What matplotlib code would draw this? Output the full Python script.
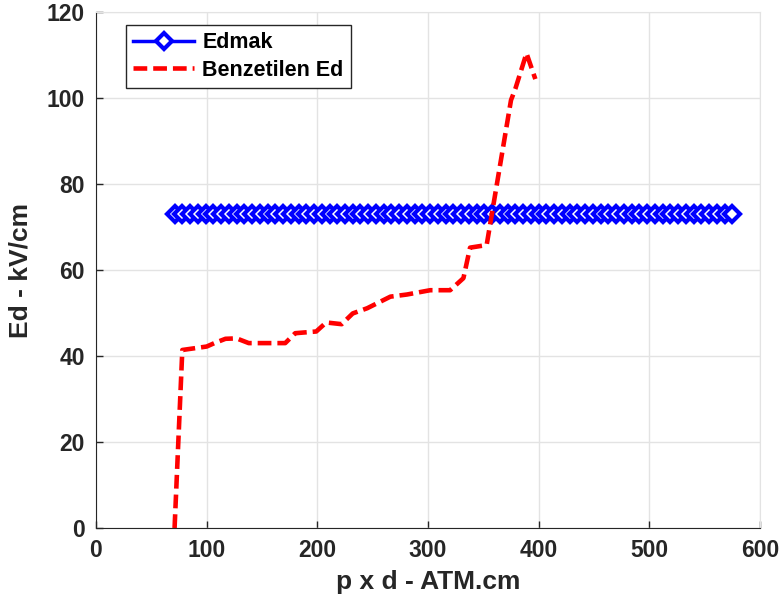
import matplotlib
matplotlib.use("Agg")
import matplotlib.pyplot as plt

plt.rcParams['font.family'] = ['Liberation Sans', 'DejaVu Sans']
plt.rcParams['font.weight'] = 'bold'

# Edmak sabit cizgi
edmak_x = [71, 78, 85, 92, 99, 106, 113, 120, 127, 134, 141, 148, 155, 162, 169,
           176, 183, 190, 197, 204, 211, 218, 225, 232, 239, 246, 253, 260, 267,
           274, 281, 288, 295, 302, 309, 316, 323, 330, 337, 344, 351, 358, 365,
           372, 379, 386, 393, 400, 407, 414, 421, 428, 435, 442, 449, 456, 463,
           470, 477, 484, 491, 498, 505, 512, 519, 526, 533, 540, 547, 554, 561,
           568, 575]
edmak_y = [73] * len(edmak_x)

# Benzetilen Ed
benz_x = [71, 78, 100, 107, 117, 127, 138, 171, 180, 199, 208, 222, 232, 245,
          266, 281, 302, 320, 332, 338, 353, 375, 379, 389, 397]
benz_y = [0, 41.4, 42.2, 43, 44, 44.1, 43, 43, 45.3, 45.7, 47.8, 47.4, 49.9, 51.1,
          53.8, 54.3, 55.3, 55.3, 58.1, 65.2, 65.8, 99.5, 102.2, 110.4, 104.4]

xticks = [0, 100, 200, 300, 400, 500, 600]
yticks = [0, 20, 40, 60, 80, 100, 120]

dark = '#262626'

fig = plt.figure(figsize=(7.84, 6.14), dpi=100)
ax = fig.add_axes([96 / 784, 86 / 614, 664 / 784, 516 / 614])

ax.plot(edmak_x, edmak_y, color='blue', linewidth=2.5, marker='D', markersize=8,
        markerfacecolor='white', markeredgecolor='blue', markeredgewidth=3,
        label='Edmak')
ax.plot(benz_x, benz_y, color='red', linewidth=3.3, dashes=(3, 1.3),
        label='Benzetilen Ed')

ax.set_xlim(0, 600)
ax.set_ylim(0, 120)
ax.set_xticks(xticks)
ax.set_yticks(yticks)
ax.grid(True, color='#e3e3e3', linewidth=1)
ax.set_axisbelow(True)

ax.tick_params(direction='in', length=5, width=1, colors=dark, labelsize=16.5,
               top=False, right=False, pad=8)
for lab in ax.get_xticklabels() + ax.get_yticklabels():
    lab.set_fontweight('bold')

ax.spines['left'].set_color(dark)
ax.spines['bottom'].set_color(dark)
ax.spines['top'].set_color('#e3e3e3')
ax.spines['right'].set_color('#e3e3e3')

ax.set_xlabel('p x d - ATM.cm', fontsize=19, fontweight='bold', color=dark, labelpad=6)
ax.set_ylabel('Ed - kV/cm', fontsize=19, fontweight='bold', color=dark, labelpad=10)

leg = ax.legend(loc='upper left', bbox_to_anchor=(0.045, 0.975), borderaxespad=0,
                fancybox=False, framealpha=1, edgecolor='#262626',
                prop={'size': 15.5, 'weight': 'bold'}, handlelength=2.8,
                labelspacing=0.3, borderpad=0.35, handletextpad=0.4)
leg.get_frame().set_linewidth(1)

plt.savefig('out.png', dpi=100)
